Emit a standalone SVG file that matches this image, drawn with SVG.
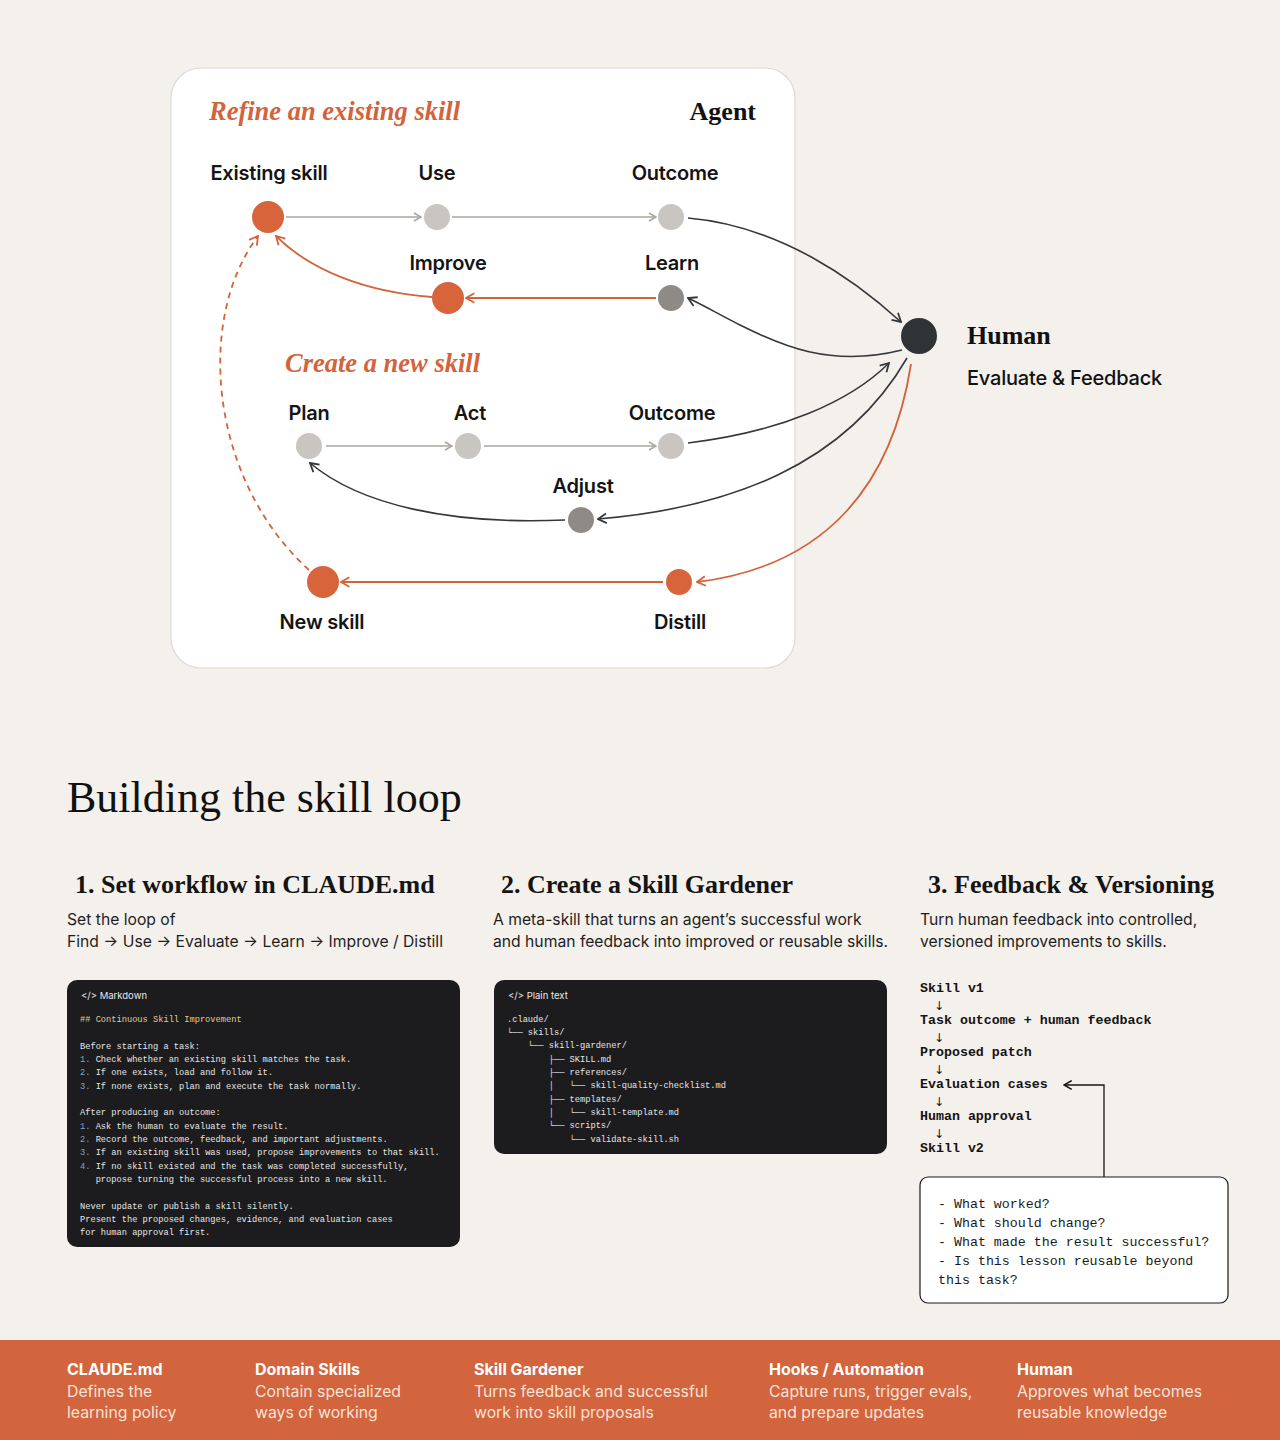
<svg xmlns="http://www.w3.org/2000/svg" width="1280" height="1440" viewBox="0 0 1280 1440">
<defs>
<style>
.bg{fill:#f4f0ec}
.card{fill:#ffffff;stroke:#dedad5;stroke-width:1.2}
.serif{font-family:"Liberation Serif","DejaVu Serif",serif}
.sans{font-family:Inter,"Liberation Sans","DejaVu Sans",sans-serif}
.mono{font-family:"Liberation Mono","DejaVu Sans Mono",monospace}
.sect{font-size:26.5px;font-weight:bold;font-style:italic;fill:#d2633b}
.lbl{font-size:20px;font-weight:600;fill:#141414;text-anchor:middle;letter-spacing:-0.2px}
.nO{fill:#d8643b}
.nL{fill:#c9c5c0}
.nD{fill:#8e8a86}
.cg{fill:none;stroke:#aaa6a1;stroke-width:1.6}
.cd{fill:none;stroke:#34383b;stroke-width:1.6}
.co{fill:none;stroke:#d2633b;stroke-width:1.8}
.h3{font-size:26px;font-weight:bold;fill:#141414}
.p{font-size:15.7px;fill:#1e1e1e}
.code{fill:#1c1c1e}
.ch{font-size:9.5px;fill:#e8e8e8}
.ct{font-size:8.7px;fill:#e6e6e6;white-space:pre}
.cy{fill:#e2cb8c}
.cn{fill:#7fa4c8}
.fl{font-size:13.3px;font-weight:bold;fill:#141414}
.ar{font-family:"DejaVu Sans","Liberation Sans",sans-serif;font-size:12px;fill:#141414;text-anchor:middle}
.q{font-size:13.3px;fill:#1a1a1a;white-space:pre}
.bt{font-size:16px;font-weight:bold;fill:#ffffff}
.bd{font-size:15.8px;fill:#f8e2d8}
</style>
<marker id="mg" viewBox="0 0 10 10" refX="9" refY="5" markerWidth="10" markerHeight="10" markerUnits="userSpaceOnUse" orient="auto"><path d="M2,1 L9,5 L2,9" fill="none" stroke="#aaa6a1" stroke-width="1.5"/></marker>
<marker id="md" viewBox="0 0 10 10" refX="9" refY="5" markerWidth="12" markerHeight="12" markerUnits="userSpaceOnUse" orient="auto"><path d="M2,1 L9,5 L2,9" fill="none" stroke="#34383b" stroke-width="1.5"/></marker>
<marker id="mo" viewBox="0 0 10 10" refX="9" refY="5" markerWidth="12" markerHeight="12" markerUnits="userSpaceOnUse" orient="auto"><path d="M2,1 L9,5 L2,9" fill="none" stroke="#d2633b" stroke-width="1.5"/></marker>
<marker id="mk" viewBox="0 0 10 10" refX="9" refY="5" markerWidth="11" markerHeight="11" markerUnits="userSpaceOnUse" orient="auto"><path d="M2,1 L9,5 L2,9" fill="none" stroke="#141414" stroke-width="1.4"/></marker>
</defs>
<rect class="bg" x="0" y="0" width="1280" height="1440"/>
<rect class="card" x="171" y="68" width="624" height="600" rx="30"/>
<text class="serif sect" x="209" y="120">Refine an existing skill</text>
<text class="serif" x="756" y="120" font-size="26" font-weight="bold" fill="#111" text-anchor="end">Agent</text>
<text class="serif sect" x="285" y="372">Create a new skill</text>

<g id="connectors">
<path class="cg" d="M286,217 L421,217" marker-end="url(#mg)"/>
<path class="cg" d="M452,217 L656,217" marker-end="url(#mg)"/>
<path class="cd" d="M688,218 C780,226 855,280 901,322" marker-end="url(#md)"/>
<path class="cd" d="M902,350 C830,368 780,345 740,325 C720,315 705,306 688,298" marker-end="url(#md)"/>
<path class="co" d="M656,298 L466,298" marker-end="url(#mo)"/>
<path class="co" d="M432,297 C365,292 310,270 276,236" marker-end="url(#mo)"/>
<path class="cg" d="M326,446 L452,446" marker-end="url(#mg)"/>
<path class="cg" d="M484,446 L656,446" marker-end="url(#mg)"/>
<path class="cd" d="M688,443 C780,432 850,402 889,363" marker-end="url(#md)"/>
<path class="cd" d="M907,358 C845,465 730,508 598,519" marker-end="url(#md)"/>
<path class="cd" d="M565,520 C450,525 360,505 310,463" marker-end="url(#md)"/>
<path class="co" d="M911,364 C893,480 830,566 697,582" stroke-width="1.6" marker-end="url(#mo)"/>
<path class="co" d="M663,582 L341,582" marker-end="url(#mo)"/>
<path class="co" d="M309,570 C210,480 195,320 258,236" stroke-dasharray="6,5" stroke-width="1.5" marker-end="url(#mo)"/>
</g>

<g id="n-existing"><circle class="nO" cx="268" cy="217" r="16"/><text class="sans lbl" x="269" y="180">Existing skill</text></g>
<g id="n-use"><circle class="nL" cx="437" cy="217" r="13"/><text class="sans lbl" x="437" y="180">Use</text></g>
<g id="n-outcome1"><circle class="nL" cx="671" cy="217" r="13"/><text class="sans lbl" x="675" y="180">Outcome</text></g>
<g id="n-improve"><circle class="nO" cx="448" cy="298" r="16"/><text class="sans lbl" x="448" y="270">Improve</text></g>
<g id="n-learn"><circle class="nD" cx="671" cy="298" r="13"/><text class="sans lbl" x="672" y="270">Learn</text></g>
<g id="n-human"><circle cx="919" cy="336" r="18" fill="#2f3336"/><text class="serif" x="967" y="344" font-size="26" font-weight="bold" fill="#111">Human</text><text class="sans" x="967" y="385" font-size="20" font-weight="500" fill="#111" letter-spacing="-0.2">Evaluate &amp; Feedback</text></g>
<g id="n-plan"><circle class="nL" cx="309" cy="446" r="13"/><text class="sans lbl" x="309" y="420">Plan</text></g>
<g id="n-act"><circle class="nL" cx="468" cy="446" r="13"/><text class="sans lbl" x="470" y="420">Act</text></g>
<g id="n-outcome2"><circle class="nL" cx="671" cy="446" r="13"/><text class="sans lbl" x="672" y="420">Outcome</text></g>
<g id="n-adjust"><circle class="nD" cx="581" cy="520" r="13"/><text class="sans lbl" x="583" y="493">Adjust</text></g>
<g id="n-newskill"><circle class="nO" cx="323" cy="582" r="16"/><text class="sans lbl" x="322" y="629">New skill</text></g>
<g id="n-distill"><circle class="nO" cx="679" cy="582" r="13"/><text class="sans lbl" x="680" y="629">Distill</text></g>

<text class="serif" x="67" y="812" font-size="44" fill="#111">Building the skill loop</text>

<g id="step1">
<text class="serif h3" x="75" y="893">1. Set workflow in CLAUDE.md</text>
<text class="sans p" x="67" y="925">Set the loop of</text>
<text class="sans p" x="67" y="947">Find → Use → Evaluate → Learn → Improve / Distill</text>
<rect class="code" x="67" y="980" width="393" height="267" rx="10"/>
<text class="sans ch" x="81" y="999">&lt;/&gt;  Markdown</text>
<text class="mono ct cy" x="80" y="1022">## Continuous Skill Improvement</text>
<text class="mono ct" x="80" y="1049">Before starting a task:</text>
<text class="mono ct" x="80" y="1062"><tspan class="cn">1.</tspan> Check whether an existing skill matches the task.</text>
<text class="mono ct" x="80" y="1075"><tspan class="cn">2.</tspan> If one exists, load and follow it.</text>
<text class="mono ct" x="80" y="1089"><tspan class="cn">3.</tspan> If none exists, plan and execute the task normally.</text>
<text class="mono ct" x="80" y="1115">After producing an outcome:</text>
<text class="mono ct" x="80" y="1129"><tspan class="cn">1.</tspan> Ask the human to evaluate the result.</text>
<text class="mono ct" x="80" y="1142"><tspan class="cn">2.</tspan> Record the outcome, feedback, and important adjustments.</text>
<text class="mono ct" x="80" y="1155"><tspan class="cn">3.</tspan> If an existing skill was used, propose improvements to that skill.</text>
<text class="mono ct" x="80" y="1169"><tspan class="cn">4.</tspan> If no skill existed and the task was completed successfully,</text>
<text class="mono ct" x="80" y="1182">   propose turning the successful process into a new skill.</text>
<text class="mono ct" x="80" y="1209">Never update or publish a skill silently.</text>
<text class="mono ct" x="80" y="1222">Present the proposed changes, evidence, and evaluation cases</text>
<text class="mono ct" x="80" y="1235">for human approval first.</text>
</g>

<g id="step2">
<text class="serif h3" x="501" y="893">2. Create a Skill Gardener</text>
<text class="sans p" x="493" y="925">A meta-skill that turns an agent’s successful work</text>
<text class="sans p" x="493" y="947">and human feedback into improved or reusable skills.</text>
<rect class="code" x="494" y="980" width="393" height="174" rx="10"/>
<text class="sans ch" x="508" y="999">&lt;/&gt;  Plain text</text>
<text class="mono ct" x="507" y="1022">.claude/</text>
<text class="mono ct" x="507" y="1035">└── skills/</text>
<text class="mono ct" x="507" y="1048">    └── skill-gardener/</text>
<text class="mono ct" x="507" y="1062">        ├── SKILL.md</text>
<text class="mono ct" x="507" y="1075">        ├── references/</text>
<text class="mono ct" x="507" y="1088">        │   └── skill-quality-checklist.md</text>
<text class="mono ct" x="507" y="1102">        ├── templates/</text>
<text class="mono ct" x="507" y="1115">        │   └── skill-template.md</text>
<text class="mono ct" x="507" y="1128">        └── scripts/</text>
<text class="mono ct" x="507" y="1142">            └── validate-skill.sh</text>
</g>

<g id="step3">
<text class="serif h3" x="928" y="893">3. Feedback &amp; Versioning</text>
<text class="sans p" x="920" y="925">Turn human feedback into controlled,</text>
<text class="sans p" x="920" y="947">versioned improvements to skills.</text>
<text class="mono fl" x="920" y="992">Skill v1</text>
<text class="ar" x="939" y="1010">↓</text>
<text class="mono fl" x="920" y="1024">Task outcome + human feedback</text>
<text class="ar" x="939" y="1042">↓</text>
<text class="mono fl" x="920" y="1056">Proposed patch</text>
<text class="ar" x="939" y="1074">↓</text>
<text class="mono fl" x="920" y="1088">Evaluation cases</text>
<text class="ar" x="939" y="1106">↓</text>
<text class="mono fl" x="920" y="1120">Human approval</text>
<text class="ar" x="939" y="1138">↓</text>
<text class="mono fl" x="920" y="1152">Skill v2</text>
<path d="M1104,1177 L1104,1085 L1064,1085" fill="none" stroke="#141414" stroke-width="1.3" marker-end="url(#mk)"/>
<rect x="920" y="1177" width="308" height="126" rx="8" fill="#ffffff" stroke="#1a1a1a" stroke-width="1.2"/>
<text class="mono q" x="938" y="1208">- What worked?</text>
<text class="mono q" x="938" y="1227">- What should change?</text>
<text class="mono q" x="938" y="1246">- What made the result successful?</text>
<text class="mono q" x="938" y="1265">- Is this lesson reusable beyond</text>
<text class="mono q" x="938" y="1284">this task?</text>
</g>

<g id="footer">
<rect x="0" y="1340" width="1280" height="100" fill="#d2643e"/>
<text class="sans bt" x="67" y="1375">CLAUDE.md</text>
<text class="sans bd" x="67" y="1397">Defines the</text>
<text class="sans bd" x="67" y="1418">learning policy</text>
<text class="sans bt" x="255" y="1375">Domain Skills</text>
<text class="sans bd" x="255" y="1397">Contain specialized</text>
<text class="sans bd" x="255" y="1418">ways of working</text>
<text class="sans bt" x="474" y="1375">Skill Gardener</text>
<text class="sans bd" x="474" y="1397">Turns feedback and successful</text>
<text class="sans bd" x="474" y="1418">work into skill proposals</text>
<text class="sans bt" x="769" y="1375">Hooks / Automation</text>
<text class="sans bd" x="769" y="1397">Capture runs, trigger evals,</text>
<text class="sans bd" x="769" y="1418">and prepare updates</text>
<text class="sans bt" x="1017" y="1375">Human</text>
<text class="sans bd" x="1017" y="1397">Approves what becomes</text>
<text class="sans bd" x="1017" y="1418">reusable knowledge</text>
</g>
</svg>
